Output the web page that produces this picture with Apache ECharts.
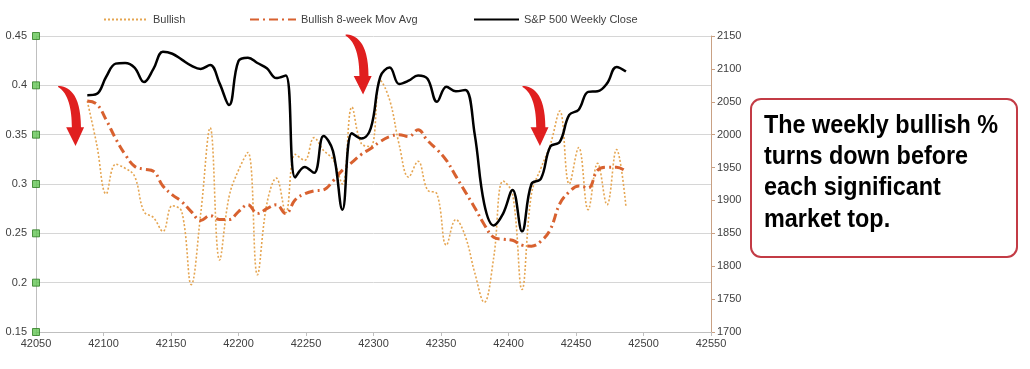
<!DOCTYPE html>
<html>
<head>
<meta charset="utf-8">
<script src="https://cdn.jsdelivr.net/npm/echarts@6/dist/echarts.min.js"></script>
<style>
html,body{margin:0;padding:0;background:#fff;}
#chart{width:1030px;height:369px;}
</style>
</head>
<body>
<div id="chart"></div>
<script>
// Week dates (Excel serial numbers)
const weekDates = [42088,42095,42102,42109,42116,42123,42130,42137,42144,42151,
  42158,42165,42172,42179,42186,42193,42200,42207,42214,42221,
  42228,42235,42242,42249,42256,42263,42270,42277,42284,42291,
  42298,42305,42312,42319,42326,42333,42340,42347,42354,42361,
  42368,42375,42382,42389,42396,42403,42410,42417,42424,42431,
  42438,42445,42452,42459,42466,42473,42480,42487];

const bullish = [0.384,0.340,0.290,0.320,0.316,0.308,0.272,0.266,0.252,0.278,
  0.272,0.198,0.270,0.357,0.223,0.287,0.314,0.332,0.208,0.280,
  0.306,0.271,0.330,0.324,0.347,0.334,0.325,0.300,0.378,0.341,
  0.338,0.405,0.385,0.340,0.307,0.323,0.294,0.290,0.238,0.264,
  0.247,0.210,0.180,0.225,0.303,0.290,0.193,0.290,0.316,0.340,
  0.374,0.300,0.337,0.274,0.321,0.279,0.335,0.277];

const bullishMA = [0.384,0.381,0.365,0.346,0.330,0.318,0.315,0.313,0.298,0.289,
  0.282,0.272,0.263,0.268,0.264,0.264,0.272,0.279,0.270,0.275,
  0.279,0.270,0.284,0.290,0.293,0.294,0.303,0.314,0.322,0.330,
  0.336,0.343,0.348,0.350,0.348,0.355,0.344,0.335,0.324,0.308,
  0.292,0.276,0.259,0.246,0.244,0.243,0.238,0.237,0.242,0.254,
  0.280,0.292,0.298,0.296,0.314,0.317,0.317,0.313];

const sp500 = [2060,2062,2088,2108,2109,2102,2080,2100,2126,2123,
  2114,2105,2100,2106,2078,2045,2112,2117,2109,2101,
  2086,2090,1935,1951,1942,1998,1975,1886,2002,1994,
  2010,2088,2102,2077,2082,2090,2085,2050,2073,2066,
  2068,2000,1895,1862,1880,1916,1853,1925,1933,1982,
  1989,2030,2038,2065,2066,2078,2103,2096];

const leftTicks = [0.15,0.2,0.25,0.3,0.35,0.4,0.45];
const arrowSpots = [[42076,0.369],[42289,0.421],[42420,0.369]];

const seriesNames = ['Bullish','Bullish 8-week Mov Avg','S&P 500 Weekly Close'];

const pair = arr => weekDates.map((d,i)=>[d, arr[i]]);
const arrowPath = 'path://M0,0 C35,0 88,10 88,69 L100,69 L67,100 L31,69 L53,69 C53,40 40,12 0,2 Z';
const font = '"Liberation Sans", Arial, sans-serif';

const chart = echarts.init(document.getElementById('chart'), null, {renderer:'canvas'});
const legendBase = {itemHeight:12, top:9,
  textStyle:{color:'#404040', fontSize:11, fontFamily:font},
  itemStyle:{opacity:0, color:'rgba(0,0,0,0)', borderWidth:0}};
chart.setOption({
  animation:false,
  backgroundColor:'#fff',
  textStyle:{fontFamily:font},
  grid:{left:36, right:319, top:36, bottom:37, containLabel:false},
  legend:[
    Object.assign({}, legendBase, {data:[seriesNames[0]], left:98, itemWidth:44}),
    Object.assign({}, legendBase, {data:[seriesNames[1]], left:244, itemWidth:46}),
    Object.assign({}, legendBase, {data:[seriesNames[2]], left:468, itemWidth:45})
  ],
  xAxis:{type:'value', min:42050, max:42550, interval:50,
    splitLine:{show:false},
    axisLine:{lineStyle:{color:'#bfbfbf'}},
    axisTick:{show:true, length:4, lineStyle:{color:'#bfbfbf'}},
    axisLabel:{color:'#404040', fontSize:11, margin:6, showMinLabel:true, showMaxLabel:true, formatter:v=>String(v)}
  },
  yAxis:[
    {type:'value', min:0.15, max:0.45, interval:0.05, position:'left',
      axisLine:{show:true, lineStyle:{color:'#bfbfbf'}},
      axisTick:{show:false},
      splitLine:{show:true, lineStyle:{color:'#d6d6d6', width:1}},
      axisLabel:{color:'#404040', fontSize:11, margin:9}
    },
    {type:'value', min:1700, max:2150, interval:50, position:'right',
      axisLine:{show:true, lineStyle:{color:'#c9a184'}},
      axisTick:{show:true, length:4, lineStyle:{color:'#c9a184'}},
      splitLine:{show:false},
      axisLabel:{color:'#404040', fontSize:11, margin:6, formatter:v=>String(v)}
    }
  ],
  series:[
    {name:seriesNames[0], type:'line', yAxisIndex:0, data:pair(bullish), smooth:0.4, symbol:'none',
      lineStyle:{color:'#e5a551', width:1.6, type:[2,2]}, itemStyle:{color:'#e5a551'}, z:2,
      markPoint:{symbol:arrowPath, symbolSize:[26,60], symbolKeepAspect:false, silent:true,
        itemStyle:{color:'#e01f1f', opacity:1}, label:{show:false},
        data:arrowSpots.map(c=>({coord:c}))}
    },
    {name:seriesNames[1], type:'line', yAxisIndex:0, data:pair(bullishMA), smooth:0.4, symbol:'none',
      lineStyle:{color:'#d8612f', width:3, type:[9,4,2,4], cap:'butt'}, itemStyle:{color:'#d8612f'}, z:3},
    {name:seriesNames[2], type:'line', yAxisIndex:1, data:pair(sp500), smooth:0.4, symbol:'none',
      lineStyle:{color:'#000000', width:2.5}, itemStyle:{color:'#000'}, z:4},
    {name:'ticks', type:'scatter', yAxisIndex:0, data:leftTicks.map(v=>[42050, v]), symbol:'rect', symbolSize:7,
      clip:false, silent:true, itemStyle:{color:'#63c554', borderColor:'#2d7a22', borderWidth:1}, z:6}
  ],
  graphic:[
    {type:'rect', shape:{x:751, y:99, width:266, height:158, r:10},
      style:{fill:'#fff', stroke:'#c33b45', lineWidth:2}},
    {type:'text', x:764, y:110, scaleX:0.9,
      style:{text:'The weekly bullish %\nturns down before\neach significant\nmarket top.',
        fill:'#000', font:'bold 26px "Liberation Sans", Arial, sans-serif', lineHeight:31.3}}
  ]
});
</script>
</body>
</html>
